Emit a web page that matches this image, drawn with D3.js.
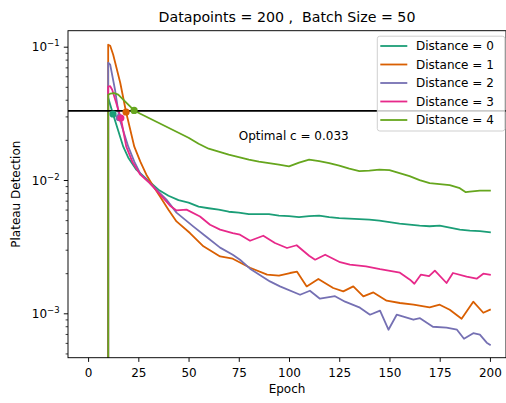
<!DOCTYPE html>
<html>
<head>
<meta charset="utf-8">
<script src="https://cdn.jsdelivr.net/npm/d3@7"></script>
<style>
  body { margin: 0; background: #ffffff; }
  svg { display: block; font-family: "DejaVu Sans", sans-serif; }
</style>
</head>
<body>
<svg id="chart" width="506" height="403"></svg>
<script>
// ---- data -------------------------------------------------------------
const titleText = "Datapoints = 200 ,  Batch Size = 50";
const xLabel = "Epoch";
const yLabel = "Plateau Detection";
const seriesNames = ["Distance = 0", "Distance = 1", "Distance = 2", "Distance = 3", "Distance = 4"];
const seriesColors = ["#1b9e77", "#d95f02", "#7570b3", "#e7298a", "#66a61e"];

// Distance = 0
const d0Epochs = [10, 12.4, 17.5, 20, 24, 30, 35, 40, 45, 50, 55, 60, 65, 70, 75, 80, 85, 90, 95, 100,
  105, 110, 115, 120, 125, 130, 135, 140, 145, 150, 155, 160, 165, 170, 175, 180, 185, 190, 195, 200];
const d0Values = [0.04144, 0.03127, 0.01778, 0.0147, 0.01195, 0.00988, 0.00846, 0.00762, 0.00706, 0.00676,
  0.00631, 0.00614, 0.00599, 0.00578, 0.00569, 0.00554, 0.00554, 0.00554, 0.0054, 0.00535,
  0.00526, 0.00535, 0.0054, 0.00526, 0.00517, 0.00513, 0.00508, 0.00504, 0.00495, 0.00483,
  0.0047, 0.00462, 0.00454, 0.0045, 0.00454, 0.00439, 0.00424, 0.00417, 0.00413, 0.00406];

// Distance = 1
const d1Epochs = [10, 11, 12.5, 13.5, 16, 18.9, 23, 26, 29, 32, 35.8, 40, 44, 50.7, 57.4, 65.7, 72, 80.6, 89.1, 95,
  100.5, 104, 108.8, 114.6, 122, 127, 132, 137, 142, 148.6, 155.2, 162, 170, 175, 180, 185.9, 191.7, 196.7, 200];
const d1Values = [0.1035, 0.1017, 0.0871, 0.07586, 0.05368, 0.03236, 0.01778, 0.01372, 0.01096, 0.00922,
  0.00753, 0.00599, 0.00489, 0.004, 0.00318, 0.00267, 0.002569, 0.002198, 0.001948, 0.001914,
  0.002006, 0.002051, 0.001591, 0.001808, 0.001548, 0.00146, 0.001591, 0.001339, 0.001435, 0.001243,
  0.001195, 0.00116, 0.001107, 0.00116, 0.001064, 0.000911, 0.001222, 0.00101, 0.001064];

// Distance = 2
const d2Epochs = [10, 11, 13.4, 15.5, 20, 23, 26, 30, 35, 39, 44, 52.3, 59, 65.7, 72, 75.6, 80.6, 90.5, 95.5, 105.5,
  110.4, 115.4, 122.9, 127.9, 135.3, 140.3, 145.3, 149.5, 153.6, 161.9, 165.2, 171.6, 178.4, 183.6, 187.1, 191.7, 195, 198.4, 200];
const d2Values = [0.07586, 0.07328, 0.04757, 0.02933, 0.01778, 0.01372, 0.01115, 0.00971, 0.00817, 0.00712,
  0.00569, 0.00449, 0.00374, 0.00311, 0.002752, 0.002524, 0.002161, 0.001735, 0.001591, 0.001378,
  0.001477, 0.001287, 0.001344, 0.001222, 0.001102, 0.000976, 0.001046, 0.000753, 0.000976, 0.000895,
  0.000919, 0.000793, 0.00078, 0.000753, 0.000645, 0.000709, 0.000691, 0.000602, 0.000581];

// Distance = 3
const d3Epochs = [10, 11, 12, 16.3, 19, 22, 26, 30, 35, 40.8, 44, 49, 55.7, 60.7, 65.7, 72, 75.6, 80.6, 87.2, 93,
  99, 103.8, 110, 113, 118, 125.4, 130.3, 138.3, 145.3, 155.2, 160.2, 162.4, 165.6, 169.7, 172.6, 178.4, 181.6, 188.4, 193.4, 196.7, 200];
const d3Values = [0.0501, 0.05054, 0.04757, 0.02918, 0.01778, 0.01372, 0.01096, 0.00971, 0.00803, 0.00642,
  0.00591, 0.00599, 0.00533, 0.00462, 0.00424, 0.004, 0.00389, 0.0035, 0.00382, 0.00337,
  0.00309, 0.00324, 0.0027, 0.002524, 0.002752, 0.002417, 0.002315, 0.002248, 0.002142, 0.002017,
  0.001787, 0.001667, 0.001948, 0.001898, 0.002088, 0.001688, 0.002006, 0.001882, 0.001818, 0.001982, 0.001948];

// Distance = 4
const d4Epochs = [10, 11, 13, 15, 18, 20, 22.9, 26, 30, 35, 40, 45, 50, 55, 60, 65, 70, 75, 80, 85,
  90, 95, 100, 105, 110, 115, 120, 125, 130, 135, 140, 145, 150, 155, 160, 165, 170, 175, 180, 185, 188, 190, 195, 200];
const d4Values = [0.04364, 0.04439, 0.04478, 0.04364, 0.03935, 0.03672, 0.03327, 0.03143, 0.02933, 0.02691,
  0.02468, 0.02263, 0.02076, 0.01872, 0.01717, 0.01631, 0.01548, 0.01483, 0.0142, 0.01372,
  0.01337, 0.01303, 0.01265, 0.01349, 0.0142, 0.01384, 0.01337, 0.0128, 0.01215, 0.01164,
  0.01175, 0.01195, 0.01185, 0.01125, 0.01068, 0.00997, 0.00946, 0.0093, 0.00914, 0.00868,
  0.0081, 0.00817, 0.00831, 0.00831];

// first epoch where each curve falls under the threshold
const markerEpochs = [12.4, 18.9, 15.5, 16.3, 22.9];
const markerValues = [0.03127, 0.03236, 0.02933, 0.02918, 0.03327];

const optimalC = 0.033;
const annotationText = "Optimal c = 0.033";
const annotationEpoch = 75;
const annotationValue = 0.02;

const xTicks = [0, 25, 50, 75, 100, 125, 150, 175, 200];
const yTicks = [1e-3, 1e-2, 1e-1];
const yTickExponents = ["\u22123", "\u22122", "\u22121"];

// ---- layout -----------------------------------------------------------
const plotL = 68, plotR = 506, plotT = 30.7, plotB = 357.7;
const fs = 12;
const lw = 1.8;

const svg = d3.select("#chart");

const x = d3.scaleLinear().domain([-10, 208]).range([plotL, plotR]);
const y = d3.scaleLog().domain([Math.pow(10, -3.333), Math.pow(10, -0.88)]).range([plotB, plotT]);

const allSeries = [
  { e: d0Epochs, v: d0Values },
  { e: d1Epochs, v: d1Values },
  { e: d2Epochs, v: d2Values },
  { e: d3Epochs, v: d3Values },
  { e: d4Epochs, v: d4Values }
];

svg.append("defs").append("clipPath").attr("id", "plotClip")
  .append("rect").attr("x", plotL).attr("y", plotT)
  .attr("width", plotR - plotL).attr("height", plotB - plotT);

const plot = svg.append("g").attr("clip-path", "url(#plotClip)");

// epochs before the first one are zero, which sits below a log axis,
// so each curve rises straight up from the floor at its first epoch
const floorY = plotB + 20;
const line = d3.line()
  .x(d => x(d[0]))
  .y(d => d[1] > 0 ? y(d[1]) : floorY);

allSeries.forEach((s, i) => {
  const pts = [[s.e[0], 0]].concat(s.e.map((ep, j) => [ep, s.v[j]]));
  plot.append("path")
    .attr("d", line(pts))
    .attr("fill", "none")
    .attr("stroke", seriesColors[i])
    .attr("stroke-width", lw)
    .attr("stroke-linejoin", "round")
    .attr("stroke-linecap", "square");
});

// threshold line
plot.append("line")
  .attr("x1", plotL).attr("x2", plotR)
  .attr("y1", y(optimalC)).attr("y2", y(optimalC))
  .attr("stroke", "#000").attr("stroke-width", lw);

// crossing markers
markerEpochs.forEach((ep, i) => {
  plot.append("circle")
    .attr("cx", x(ep)).attr("cy", y(markerValues[i]))
    .attr("r", 3.6)
    .attr("fill", seriesColors[i]);
});

// annotation
svg.append("text")
  .attr("x", x(annotationEpoch)).attr("y", y(annotationValue))
  .attr("font-size", fs).attr("fill", "#000")
  .text(annotationText);

// ---- axes -------------------------------------------------------------
const xAxis = d3.axisBottom(x).tickValues(xTicks).tickSize(4.2).tickPadding(6.6).tickSizeOuter(0);
const gx = svg.append("g").attr("transform", `translate(0,${plotB})`).call(xAxis);
gx.select(".domain").remove();
gx.selectAll("line").attr("stroke", "#000").attr("stroke-width", 0.95);
gx.selectAll("text").attr("font-size", fs).attr("fill", "#000")
  .attr("font-family", "DejaVu Sans, sans-serif");

const minorTicks = [];
for (let p = -4; p <= 0; p++) {
  for (let k = 2; k <= 9; k++) {
    const v = k * Math.pow(10, p);
    if (v >= y.domain()[0] && v <= y.domain()[1]) minorTicks.push(v);
  }
}
const gyMinor = svg.append("g").attr("transform", `translate(${plotL},0)`)
  .call(d3.axisLeft(y).tickValues(minorTicks).tickSize(2.4).tickFormat(() => ""));
gyMinor.select(".domain").remove();
gyMinor.selectAll("line").attr("stroke", "#000").attr("stroke-width", 0.75);

const gyMajor = svg.append("g").attr("transform", `translate(${plotL},0)`)
  .call(d3.axisLeft(y).tickValues(yTicks).tickSize(4.2).tickFormat(() => ""));
gyMajor.select(".domain").remove();
gyMajor.selectAll("line").attr("stroke", "#000").attr("stroke-width", 0.95);

yTicks.forEach((t, i) => {
  const lab = svg.append("text")
    .attr("x", plotL - 4.2 - 4.2).attr("y", y(t) + 4.8)
    .attr("text-anchor", "end")
    .attr("font-size", fs).attr("fill", "#000");
  lab.append("tspan").text("10");
  lab.append("tspan").attr("dy", -5.2).attr("font-size", 8.5).text(yTickExponents[i]);
});

// frame
svg.append("rect")
  .attr("x", plotL).attr("y", plotT)
  .attr("width", plotR - plotL).attr("height", plotB - plotT)
  .attr("fill", "none").attr("stroke", "#000").attr("stroke-width", 0.95);

// titles
svg.append("text")
  .attr("x", (plotL + plotR) / 2).attr("y", 21.8)
  .attr("text-anchor", "middle").attr("font-size", 14.2)
  .style("white-space", "pre").attr("fill", "#000")
  .text(titleText);

svg.append("text")
  .attr("x", (plotL + plotR) / 2).attr("y", 393)
  .attr("text-anchor", "middle").attr("font-size", fs).attr("fill", "#000")
  .text(xLabel);

svg.append("text")
  .attr("transform", `translate(20,${(plotT + plotB) / 2}) rotate(-90)`)
  .attr("text-anchor", "middle").attr("font-size", fs).attr("fill", "#000")
  .text(yLabel);

// ---- legend -----------------------------------------------------------
const lgX = 377.3, lgY = 36.2, lgW = 127.5, lgH = 94.8, rowH = 18.5;
const lg = svg.append("g");
lg.append("rect")
  .attr("x", lgX).attr("y", lgY).attr("width", lgW).attr("height", lgH)
  .attr("rx", 2.5).attr("ry", 2.5)
  .attr("fill", "#fff").attr("fill-opacity", 0.8)
  .attr("stroke", "#cccccc").attr("stroke-width", 0.95);
seriesNames.forEach((name, i) => {
  const cy = 46 + i * rowH;
  lg.append("line")
    .attr("x1", lgX + 3).attr("x2", lgX + 30)
    .attr("y1", cy).attr("y2", cy)
    .attr("stroke", seriesColors[i]).attr("stroke-width", lw);
  lg.append("text")
    .attr("x", lgX + 38.7).attr("y", cy + 4.3)
    .attr("font-size", fs).attr("fill", "#000")
    .text(name);
});
</script>
</body>
</html>
